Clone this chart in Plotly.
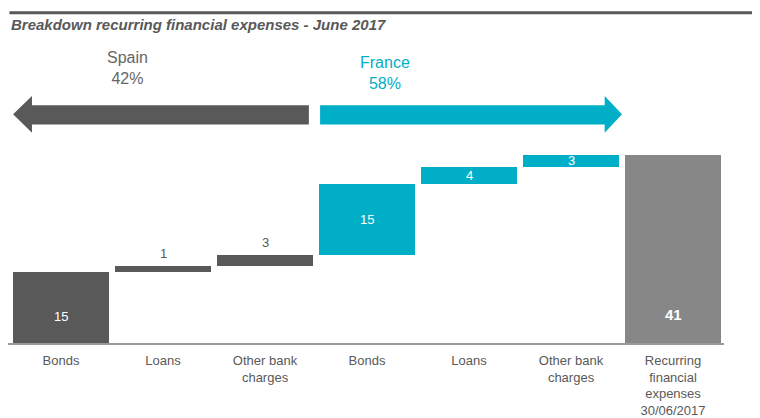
import numpy as np
import plotly.graph_objects as go

# data
categories = ["Bonds", "Loans", "Other bank<br>charges", "Bonds", "Loans",
              "Other bank<br>charges", "Recurring<br>financial<br>expenses<br>30/06/2017"]
steps = [15.4, 1.4, 2.4, 15.5, 3.7, 2.6]   # Spain x3, France x3
total = 41.0
labels = ["15", "1", "3", "15", "4", "3", "41"]
regions = ["Spain", "Spain", "Spain", "France", "France", "France", "Total"]
region_share = {"Spain": "42%", "France": "58%"}

DARK = "#595959"
CYAN = "#00AEC7"
GREY = "#878787"
colors = {"Spain": DARK, "France": CYAN, "Total": GREY}

x = np.arange(len(categories))
values = np.array(steps + [total])
bases = np.concatenate([[0], np.cumsum(steps)[:-1], [0]])

fig = go.Figure()
fig.add_trace(go.Bar(
    x=x, y=values, base=bases, width=0.94,
    marker=dict(color=[colors[r] for r in regions], line=dict(width=0)),
    hoverinfo="skip",
))

# value labels
for i, (lab, v, b) in enumerate(zip(labels, values, bases)):
    if i in (1, 2):          # thin Spain bars: label above
        y, col = b + v + 2.6, DARK
    elif i == 0:
        y, col = b + v * 0.38, "white"
    elif i == len(values) - 1:
        y, col = b + v * 0.15, "white"
    else:
        y, col = b + v / 2, "white"
    fig.add_annotation(x=i, y=y, text=f"<b>{lab}</b>" if i == len(values) - 1 else lab,
                       showarrow=False, font=dict(size=13 if i < 6 else 15, color=col))

# region arrows
y_top, y_bot, s_top, s_bot = 53.8, 45.8, 51.8, 47.6
fig.add_shape(type="path", xref="x", yref="y", line_width=0, fillcolor=DARK,
              path=f"M -0.47 {(y_top + y_bot) / 2} L -0.285 {y_top} L -0.285 {s_top} "
                   f"L 2.43 {s_top} L 2.43 {s_bot} L -0.285 {s_bot} L -0.285 {y_bot} Z")
fig.add_shape(type="path", xref="x", yref="y", line_width=0, fillcolor=CYAN,
              path=f"M 5.5 {(y_top + y_bot) / 2} L 5.33 {y_top} L 5.33 {s_top} "
                   f"L 2.54 {s_top} L 2.54 {s_bot} L 5.33 {s_bot} L 5.33 {y_bot} Z")
fig.add_annotation(x=0.65, y=59.8, text=f"Spain<br>{region_share['Spain']}", showarrow=False,
                   font=dict(size=16, color="#666666"))
fig.add_annotation(x=3.18, y=58.9, text=f"France<br>{region_share['France']}", showarrow=False,
                   font=dict(size=16, color=CYAN))

# header rule and title
fig.add_shape(type="line", xref="paper", yref="paper", x0=0.002, x1=1.08,
              y0=1.09, y1=1.09, line=dict(color=DARK, width=3))
fig.add_annotation(xref="paper", yref="paper", x=0.002, y=1.05, xanchor="left", yanchor="middle",
                   text="<b><i>Breakdown recurring financial expenses - June 2017</i></b>",
                   showarrow=False, font=dict(size=15, color=DARK))

# page body adds an 8px offset, so the figure is 8px smaller on each side
fig.update_layout(
    width=752, height=410,
    margin=dict(l=0, r=36, t=32, b=73),
    plot_bgcolor="white", paper_bgcolor="white",
    showlegend=False,
    font=dict(family="Liberation Sans, Arial, sans-serif", color=DARK),
    xaxis=dict(range=[-0.52, 6.5], tickvals=x, ticktext=categories, showgrid=False,
               zeroline=False, showline=True, linecolor="#9a9a9a", linewidth=2,
               ticks="", ticklabelstandoff=4, tickfont=dict(size=13, color=DARK)),
    yaxis=dict(range=[0, 66], visible=False, showgrid=False, zeroline=False),
    bargap=0,
)

fig.write_html("out.html")
